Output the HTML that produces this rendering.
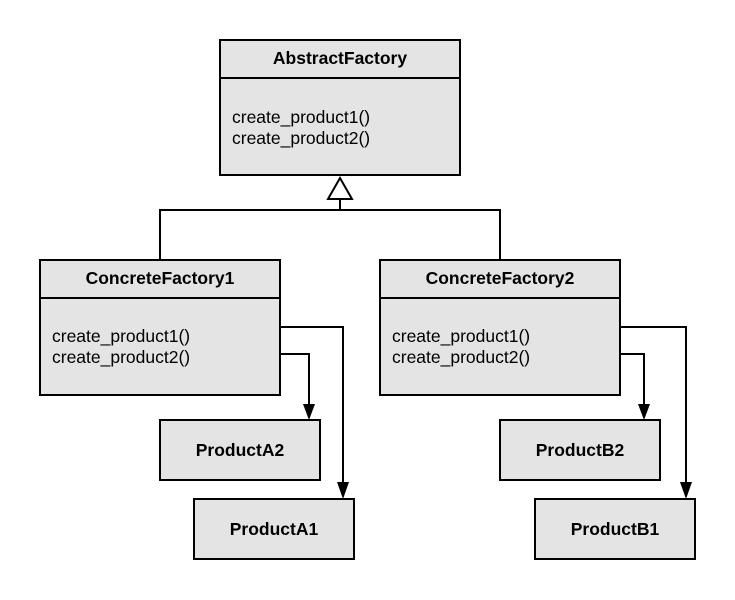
<!DOCTYPE html>
<html><head><style>body{margin:0;background:#fff}svg{display:block}</style></head><body>
<svg width="735" height="600" xmlns="http://www.w3.org/2000/svg" font-family="Liberation Sans, Arial, sans-serif" font-size="17.5">
<g stroke="#000" stroke-width="2" fill="#e4e4e4">
<rect x="220" y="40" width="240" height="135"/><line x1="220" y1="78" x2="460" y2="78"/>
<rect x="40" y="260" width="240" height="135"/><line x1="40" y1="298" x2="280" y2="298"/>
<rect x="380" y="260" width="240" height="135"/><line x1="380" y1="298" x2="620" y2="298"/>
<rect x="160" y="420" width="160" height="60"/>
<rect x="194" y="499" width="160" height="60"/>
<rect x="500" y="420" width="160" height="60"/>
<rect x="535" y="499" width="160" height="60"/>
</g>
<g stroke="#000" stroke-width="2" fill="none">
<polyline points="160,260 160,210 500,210 500,260"/>
<line x1="340" y1="210" x2="340" y2="199"/>
<polygon points="340,178 328,199 352,199" fill="#fff"/>
<polyline points="280,327 343,327 343,484"/>
<polyline points="280,354 309,354 309,406"/>
<polyline points="620,327 686,327 686,484"/>
<polyline points="620,354 644,354 644,406"/>
</g>
<g fill="#000">
<polygon points="337,482 349,482 343,499"/>
<polygon points="303,404 315,404 309,420"/>
<polygon points="680,482 692,482 686,499"/>
<polygon points="638,404 650,404 644,420"/>
</g>
<g font-weight="bold" text-anchor="middle">
<text x="340" y="64">AbstractFactory</text>
<text x="160" y="284">ConcreteFactory1</text>
<text x="500" y="284">ConcreteFactory2</text>
<text x="240" y="456">ProductA2</text>
<text x="274" y="535">ProductA1</text>
<text x="580" y="456">ProductB2</text>
<text x="615" y="535">ProductB1</text>
</g>
<g>
<text x="232" y="123">create_product1()</text>
<text x="232" y="144">create_product2()</text>
<text x="52" y="342">create_product1()</text>
<text x="52" y="363">create_product2()</text>
<text x="392" y="342">create_product1()</text>
<text x="392" y="363">create_product2()</text>
</g>
</svg>
</body></html>
